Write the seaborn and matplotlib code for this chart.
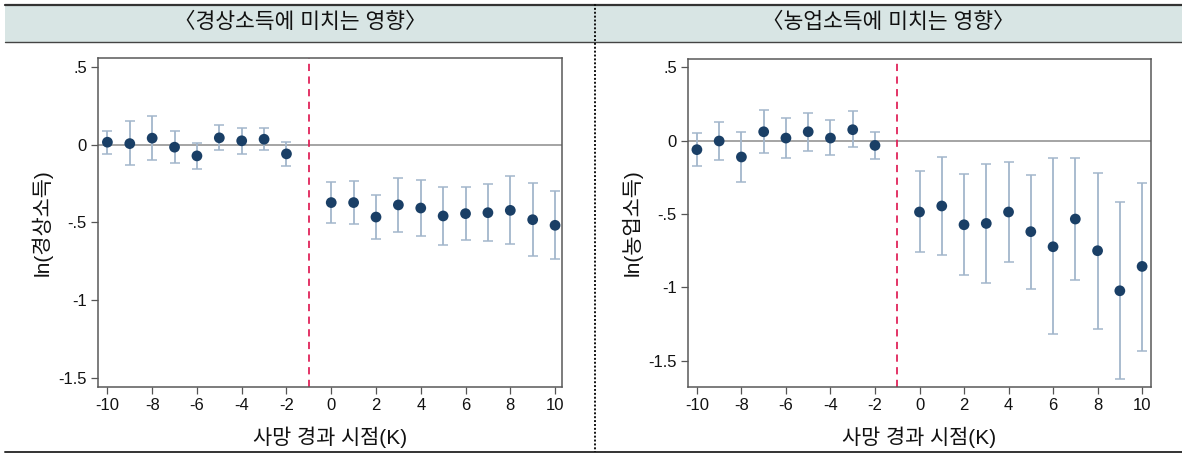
import numpy as np
import pandas as pd
import matplotlib
matplotlib.use("Agg")
import matplotlib.pyplot as plt
import seaborn as sns
from matplotlib.patches import Rectangle
from matplotlib.lines import Line2D

# ---- data ----
k = [-10, -9, -8, -7, -6, -5, -4, -3, -2, 0, 1, 2, 3, 4, 5, 6, 7, 8, 9, 10]

inc_coef = [0.015, 0.006, 0.041, -0.017, -0.073, 0.043, 0.024, 0.034, -0.060,
            -0.373, -0.373, -0.466, -0.388, -0.408, -0.459, -0.444, -0.438, -0.423, -0.483, -0.519]
inc_hi = [0.086, 0.148, 0.182, 0.084, 0.013, 0.124, 0.103, 0.109, 0.019,
          -0.240, -0.236, -0.322, -0.212, -0.225, -0.270, -0.275, -0.253, -0.204, -0.247, -0.300]
inc_lo = [-0.058, -0.133, -0.101, -0.116, -0.159, -0.036, -0.060, -0.036, -0.135,
          -0.504, -0.513, -0.607, -0.560, -0.588, -0.646, -0.612, -0.620, -0.637, -0.715, -0.738]

farm_coef = [-0.061, -0.002, -0.111, 0.061, 0.018, 0.061, 0.018, 0.075, -0.032,
             -0.486, -0.445, -0.573, -0.564, -0.486, -0.620, -0.723, -0.534, -0.750, -1.023, -0.857]
farm_hi = [0.055, 0.127, 0.061, 0.209, 0.157, 0.191, 0.139, 0.200, 0.061,
           -0.209, -0.111, -0.227, -0.159, -0.143, -0.232, -0.118, -0.118, -0.218, -0.420, -0.286]
farm_lo = [-0.175, -0.134, -0.282, -0.084, -0.118, -0.068, -0.100, -0.045, -0.123,
           -0.761, -0.780, -0.916, -0.968, -0.830, -1.009, -1.320, -0.948, -1.282, -1.627, -1.432]

titles = ["〈경상소득에 미치는 영향〉", "〈농업소득에 미치는 영향〉"]
ylabels = ["ln(경상소득)", "ln(농업소득)"]
xlabel = "사망 경과 시점(K)"
xticks = [-10, -8, -6, -4, -2, 0, 2, 4, 6, 8, 10]
yticks = [0.5, 0, -0.5, -1, -1.5]
ytick_labels = [".5", "0", "-.5", "-1", "-1.5"]

sns.set_theme(style="white")
plt.rcParams['font.family'] = ['Liberation Sans', 'Noto Sans CJK KR', 'DejaVu Sans']

fig = plt.figure(figsize=(11.82, 4.55), dpi=100)

# header band and frame lines
fig.patches.append(Rectangle((0.004, 1 - 42/455), 0.996, (42 - 5)/455, transform=fig.transFigure,
                             facecolor="#d8e5e4", edgecolor="none", zorder=0))
fig.lines.append(Line2D([0.004, 1], [1 - 4.5/455, 1 - 4.5/455], transform=fig.transFigure,
                        color="#333333", lw=1.6))
fig.lines.append(Line2D([0.004, 1], [1 - 42/455, 1 - 42/455], transform=fig.transFigure,
                        color="#444444", lw=1.0))
fig.lines.append(Line2D([0.004, 1], [1 - 452/455, 1 - 452/455], transform=fig.transFigure,
                        color="#333333", lw=1.4))
fig.lines.append(Line2D([595/1182, 595/1182], [1 - 4/455, 1 - 452/455], transform=fig.transFigure,
                        color="#111111", lw=1.4, ls=(0, (1, 1))))

fig.text(300/1182, 1 - 23/455, titles[0], ha="center", va="center", fontsize=15.5, color="#111111")
fig.text(888/1182, 1 - 23/455, titles[1], ha="center", va="center", fontsize=15.5, color="#111111")

positions = [
    [98/1182, 1 - 387/455, (562 - 98)/1182, (387 - 58)/455],
    [688/1182, 1 - 387/455, (1151 - 688)/1182, (387 - 59)/455],
]
xlims = [(-10.42, 10.31), (-10.40, 10.40)]
ylims = [(-1.558, 0.556), (-1.679, 0.557)]
series = [(inc_coef, inc_lo, inc_hi), (farm_coef, farm_lo, farm_hi)]

for i in range(2):
    ax = fig.add_axes(positions[i])
    coef, lo, hi = series[i]
    df = pd.DataFrame({"k": k, "coef": coef, "lo": lo, "hi": hi})
    ax.axhline(0, color="#8c8c8c", lw=1.1, zorder=1)
    ax.axvline(-1, color="#e0245a", lw=1.3, ls=(0, (4, 3)), zorder=1)
    ax.errorbar(df["k"], df["coef"],
                yerr=[df["coef"] - df["lo"], df["hi"] - df["coef"]],
                fmt="none", ecolor="#a3b6cb", elinewidth=1.3, capsize=3.5, capthick=1.1, zorder=2)
    sns.scatterplot(data=df, x="k", y="coef", ax=ax, color="#1a3f66", s=60,
                    edgecolor="none", zorder=3, legend=False)
    ax.set_xlim(*xlims[i])
    ax.set_ylim(*ylims[i])
    ax.set_xticks(xticks)
    ax.set_xticklabels([str(t) for t in xticks])
    ax.set_yticks(yticks)
    ax.set_yticklabels(ytick_labels)
    ax.tick_params(axis="both", direction="out", length=5, width=0.9, color="#555555",
                   labelsize=12, labelcolor="#111111", pad=3, left=True, bottom=True)
    for s in ax.spines.values():
        s.set_color("#595959")
        s.set_linewidth(1.1)
    ax.set_xlabel(xlabel, fontsize=15, color="#111111", labelpad=10)
    ax.set_ylabel(ylabels[i], fontsize=15, color="#111111", labelpad=4)
    ax.grid(False)

fig.savefig("out.png", dpi=100)
